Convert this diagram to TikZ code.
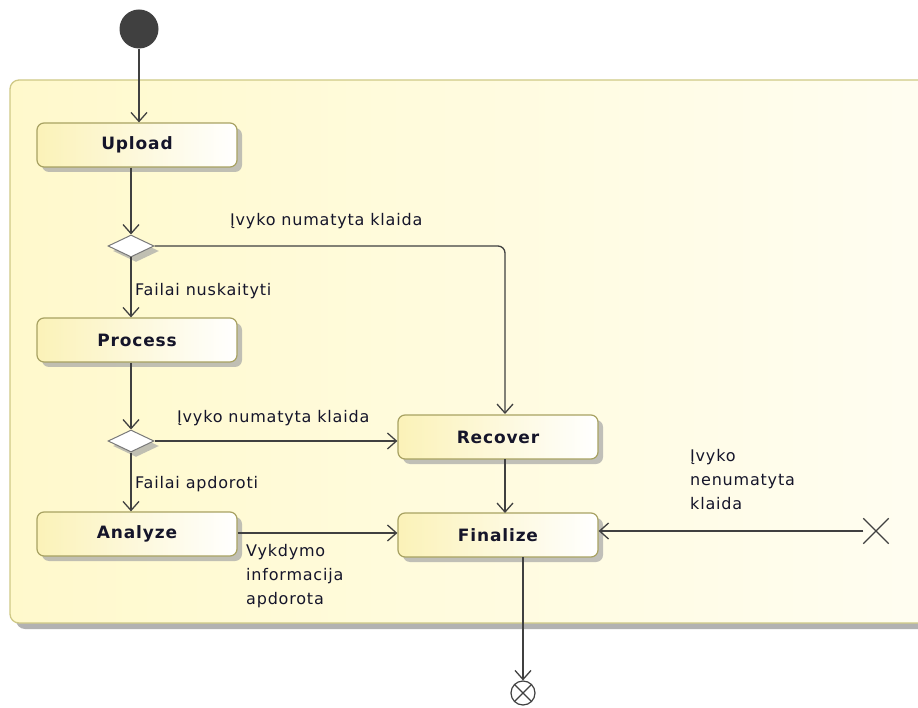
\documentclass[tikz,border=0pt]{standalone}
\usepackage{fontspec}
\setmainfont{DejaVu Sans}[LetterSpace=5]
\usetikzlibrary{arrows.meta,shapes.geometric,shapes.misc,shadows}
\definecolor{frameborder}{HTML}{CFC986}
\definecolor{framefill}{HTML}{FFF9CC}
\definecolor{actborder}{HTML}{A8A262}
\definecolor{actfill}{HTML}{FBF2B8}
\definecolor{flow}{HTML}{404040}
\definecolor{txt}{HTML}{15152A}
\tikzset{
  shade/.style={drop shadow={shadow xshift=5pt,shadow yshift=-5pt,fill=black!35,opacity=.7}},
  action/.style={draw=actborder,line width=1.2pt,rounded corners=7pt,
    minimum width=200pt,minimum height=44pt,inner sep=0pt,
    left color=actfill,right color=white,shade,
    font=\fontsize{17}{20}\selectfont\bfseries,text=txt},
  decision/.style={diamond,draw=flow!70,line width=1pt,fill=white,
    minimum width=46pt,minimum height=22pt,inner sep=0pt,aspect=2,shade},
  edge/.style={draw=flow,line width=1.3pt,-{Straight Barb[length=9pt,width=16pt,line width=1.3pt]}},
  guard/.style={font=\fontsize{16}{24}\selectfont,text=txt,inner sep=0pt,align=left},
}
\begin{document}
\begin{tikzpicture}[x=1pt,y=-1pt]
  \useasboundingbox (0,0) rectangle (918,708);
  \clip (0,0) rectangle (918,708);
  % activity frame
  \fill[black!30,rounded corners=9pt] (16,88) rectangle (960,629);
  \draw[frameborder,line width=1.3pt,rounded corners=9pt,left color=framefill,right color=framefill!25!white]
    (10,80) rectangle (960,623);

  % initial node
  \node[circle,fill=flow,minimum size=39pt,inner sep=0pt] (start) at (139,29) {};

  % actions
  \node[action] (up)  at (137,145) {Upload};
  \node[action] (pro) at (137,340) {Process};
  \node[action] (ana) at (137,534) {Analyze};
  \node[action] (rec) at (498,437) {Recover};
  \node[action] (fin) at (498,535) {Finalize};

  % decisions
  \node[decision] (d1) at (131,246) {};
  \node[decision] (d2) at (131,441) {};

  % final nodes
  \node[circle,draw=flow,line width=1.2pt,fill=white,minimum size=24pt,inner sep=0pt,
    path picture={\draw[flow,line width=1.2pt]
      (path picture bounding box.north west) -- (path picture bounding box.south east)
      (path picture bounding box.north east) -- (path picture bounding box.south west);}]
    (end) at (523,693) {};
  \node[cross out,draw=flow,line width=1.3pt,minimum size=24pt,inner sep=0pt] (lost) at (876,531) {};

  % flows
  \draw[edge] (start) -- (start |- up.north);
  \draw[edge] (up.south -| d1) -- (d1.north);
  \draw[edge] (d1.south) -- (d1 |- pro.north);
  \draw[edge] (pro.south -| d2) -- (d2.north);
  \draw[edge] (d2.south) -- (d2 |- ana.north);
  \draw[edge,rounded corners=7pt] (d1.east) -- (505,246) -- (505,414);
  \draw[edge] (d2.east) -- (d2.east -| rec.west);
  \draw[edge] (505,459) -- (505,513);
  \draw[edge] (ana.east |- 0,533) -- (fin.west |- 0,533);
  \draw[edge] (lost.west |- 0,531) -- (fin.east |- 0,531);
  \draw[edge] (523,557) -- (end.north);

  % guards
  \node[guard,anchor=base west] (g1) at (230,226) {Įvyko numatyta klaida};
  \node[guard,anchor=base west] (g2) at (135,296) {Failai nuskaityti};
  \node[guard,anchor=base west] (g3) at (177,422) {Įvyko numatyta klaida};
  \node[guard,anchor=base west] (g4) at (135,488) {Failai apdoroti};
  \node[guard,anchor=north west] (g5) at (246,544) {Vykdymo\\informacija\\apdorota};
  \node[guard,anchor=north west] (g6) at (690,449) {Įvyko\\nenumatyta\\klaida};
\end{tikzpicture}
\end{document}
